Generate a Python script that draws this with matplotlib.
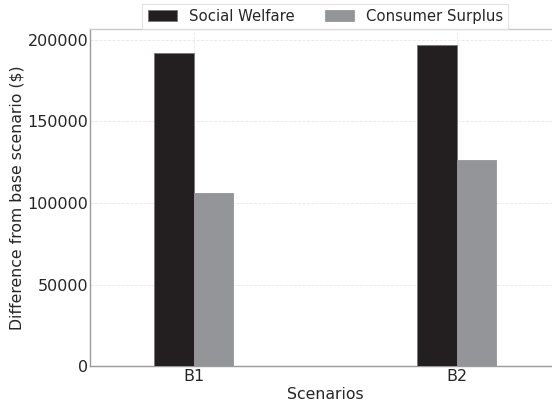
import numpy as np
import matplotlib
matplotlib.use("Agg")
import matplotlib.pyplot as plt

# values
scenarios = ["B1", "B2"]
social_welfare = [192000, 196800]
consumer_surplus = [106400, 126300]

plt.rcParams["font.family"] = ["DejaVu Sans"]

fig = plt.figure(figsize=(5.52, 4.09), dpi=100)
ax = fig.add_axes([0.163, 0.105, 0.853, 0.824])

x = np.arange(len(scenarios))
w = 0.15
ax.bar(x - w / 2, social_welfare, w, color="#231f20", edgecolor="#777777",
       linewidth=0.6, label="Social Welfare", zorder=3)
ax.bar(x + w / 2, consumer_surplus, w, color="#939598", edgecolor="#939598",
       linewidth=0.6, label="Consumer Surplus", zorder=3)

ax.set_xticks(x)
ax.set_xticklabels(scenarios)
ax.set_xlim(-0.395, 1.395)
ax.set_yticks([0, 50000, 100000, 150000, 200000])
ax.set_ylim(0, max(social_welfare) * 1.05)
ax.tick_params(length=0, labelsize=11.5, colors="#262626")
ax.tick_params(axis="x", pad=2)
ax.tick_params(axis="y", pad=1)

ax.set_xlabel("Scenarios", fontsize=11.3, color="#262626", labelpad=2)
ax.set_ylabel("Difference from base scenario ($)", fontsize=11.3,
              color="#262626", labelpad=2)

ax.grid(True, color="#e8e8e8", linestyle="--", linewidth=0.6, zorder=0)
for s in ax.spines.values():
    s.set_color("#c8c8c8")
    s.set_linewidth(1.0)
ax.spines["left"].set_color("#9a9a9a")
ax.spines["bottom"].set_color("#9a9a9a")

leg = ax.legend(ncol=2, loc="lower center", bbox_to_anchor=(0.5, 1.0),
                fontsize=10.7, frameon=True, fancybox=False, borderaxespad=0,
                handlelength=2.0, handleheight=0.75, handletextpad=0.8,
                columnspacing=2.0, borderpad=0.35)
leg.get_frame().set_edgecolor("#dddddd")
leg.get_frame().set_linewidth(0.8)
for t in leg.get_texts():
    t.set_color("#262626")

fig.savefig("out.png", dpi=100)
